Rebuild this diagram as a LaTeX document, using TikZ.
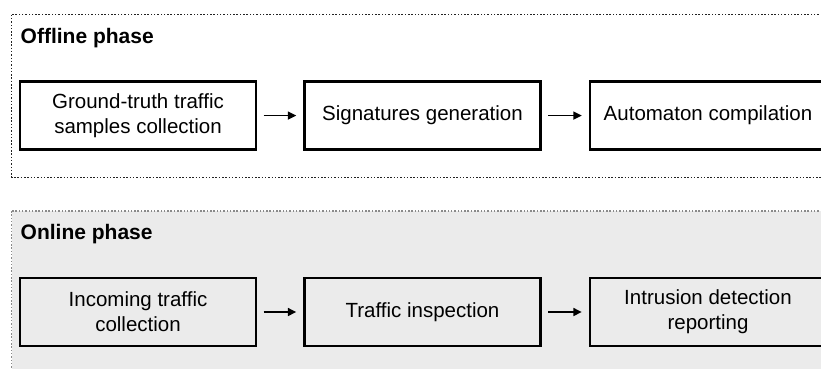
\documentclass[tikz,border=0pt]{standalone}
\usepackage{fontspec}
\setmainfont{Liberation Sans}
\usetikzlibrary{arrows.meta}
\definecolor{panelgray}{HTML}{EBEBEB}
\definecolor{dotdark}{HTML}{222222}
\definecolor{dotlight}{HTML}{8A8A8A}
\tikzset{
  panel/.style={line width=1.5pt, dash pattern=on 1.5pt off 1.8pt},
  stepbox/.style={draw=black, line width=2.4pt, minimum width=236pt, minimum height=68pt,
    inner sep=0pt, align=center, font=\fontsize{20.5}{25}\selectfont},
  phasetitle/.style={anchor=base west, inner sep=0pt, font=\fontsize{21}{24}\selectfont\bfseries},
  flow/.style={line width=1.6pt, -{Triangle[length=8.5pt,width=8pt]}, shorten <=6.5pt, shorten >=7pt}
}
\begin{document}
\begin{tikzpicture}[x=1pt,y=-1pt]
\useasboundingbox (0,0) rectangle (821,369);
\clip (0,0) rectangle (821,369);
% offline panel
\draw[panel, draw=dotdark] (11.7,14.7) rectangle (840,177.3);
\node[phasetitle] (offt) at (20.5,43.3) {Offline phase};
\node[stepbox] (g) at (138,115.6) {Ground-truth traffic\\samples collection};
\node[stepbox] (s) at (422.5,115.6) {Signatures generation};
\node[stepbox] (a) at (708,115.6) {Automaton compilation};
\draw[flow] (g) -- (s);
\draw[flow] (s) -- (a);
% online panel
\fill[panelgray] (11.7,211) rectangle (840,400);
\draw[panel, draw=dotlight] (11.7,211) rectangle (840,400);
\node[phasetitle] (ont) at (20.5,239.6) {Online phase};
\node[stepbox, fill=panelgray] (i) at (138,312) {Incoming traffic\\collection};
\node[stepbox, fill=panelgray] (t) at (422.5,312) {Traffic inspection};
\node[stepbox, fill=panelgray] (r) at (708,312) {Intrusion detection\\reporting};
\draw[flow] (i) -- (t);
\draw[flow] (t) -- (r);
\end{tikzpicture}
\end{document}
